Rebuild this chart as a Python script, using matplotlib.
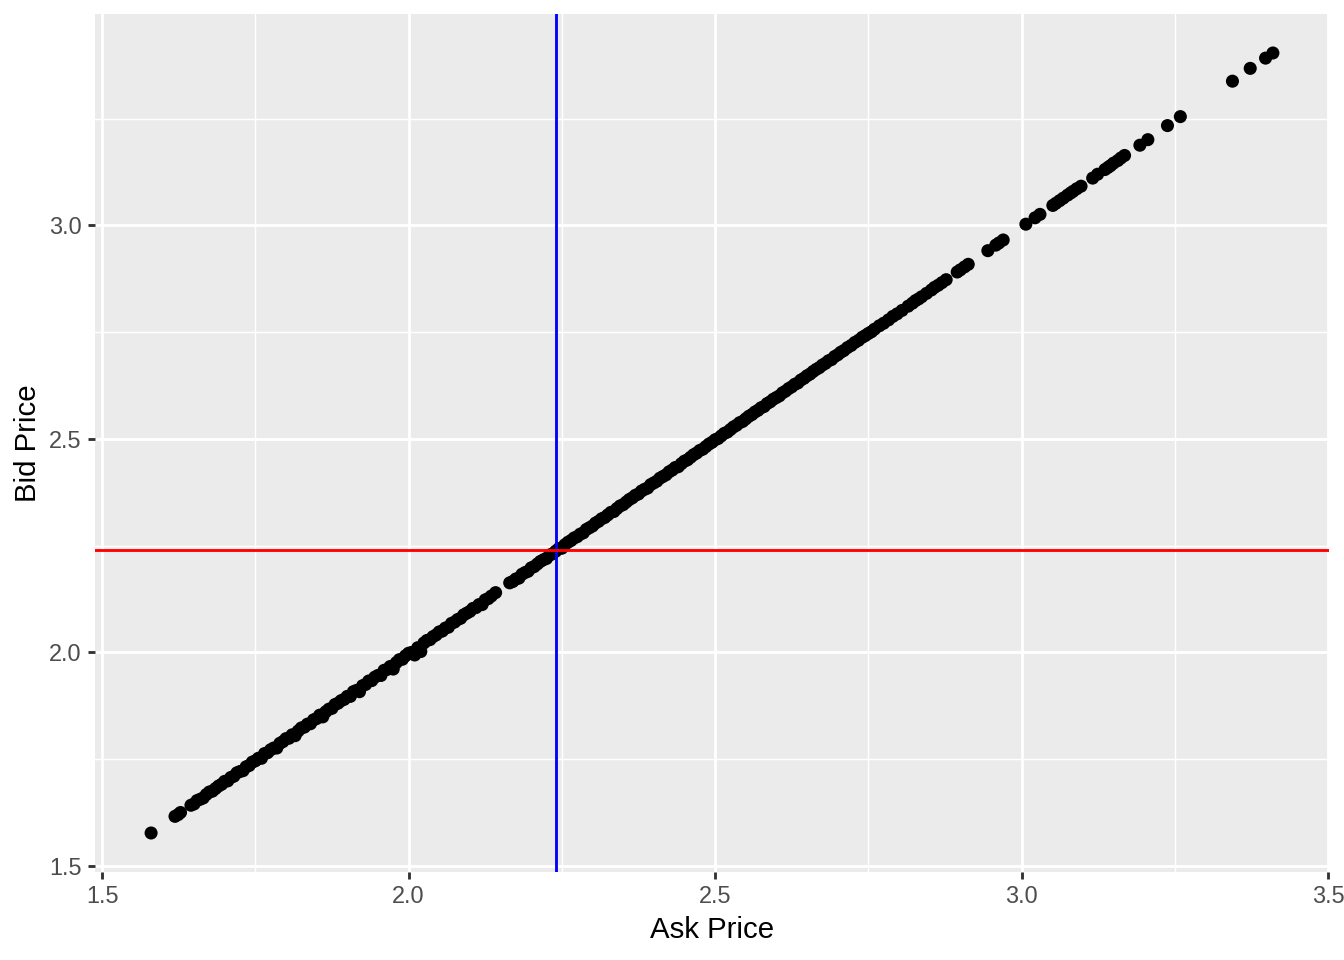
import numpy as np
import matplotlib.pyplot as plt
from matplotlib.ticker import MultipleLocator, FormatStrFormatter

# === Data (Ask vs Bid) ===
ask = [
    1.580, 1.619, 1.624, 1.628,
    1.645, 1.650, 1.655, 1.660, 1.665, 1.670, 1.675, 1.680, 1.685, 1.690,
    1.695, 1.700, 1.705, 1.710, 1.715, 1.720, 1.725, 1.730, 1.735, 1.740,
    1.745, 1.750, 1.755, 1.760, 1.765, 1.770, 1.775, 1.780, 1.785, 1.790,
    1.795, 1.800, 1.805, 1.810, 1.815, 1.820, 1.825, 1.830, 1.835, 1.840,
    1.845, 1.850, 1.855, 1.860, 1.865, 1.870, 1.875, 1.880, 1.885, 1.890,
    1.895, 1.900, 1.905, 1.910, 1.915, 1.920, 1.925, 1.930, 1.935, 1.940,
    1.945, 1.950, 1.955, 1.960, 1.965, 1.970, 1.975, 1.980, 1.985, 1.990,
    1.995, 2.000, 2.005, 2.010, 2.015, 2.020, 2.025, 2.030, 2.035, 2.040,
    2.045, 2.050, 2.055, 2.060, 2.065, 2.070, 2.075, 2.080, 2.085, 2.090,
    2.095, 2.100, 2.105, 2.110, 2.115, 2.120, 2.125, 2.130, 2.135, 2.142,
    2.165, 2.170, 2.175, 2.180, 2.185, 2.190, 2.195, 2.200, 2.205, 2.210,
    2.215, 2.220, 2.225, 2.230, 2.235, 2.240, 2.245, 2.250, 2.255, 2.260,
    2.265, 2.270, 2.275, 2.280, 2.285, 2.290, 2.295, 2.300, 2.305, 2.310,
    2.315, 2.320, 2.325, 2.330, 2.335, 2.340, 2.345, 2.350, 2.355, 2.360,
    2.365, 2.370, 2.375, 2.380, 2.385, 2.390, 2.395, 2.400, 2.405, 2.410,
    2.415, 2.420, 2.425, 2.430, 2.435, 2.440, 2.445, 2.450, 2.455, 2.460,
    2.465, 2.470, 2.475, 2.480, 2.485, 2.490, 2.495, 2.500, 2.505, 2.510,
    2.515, 2.520, 2.525, 2.530, 2.535, 2.540, 2.545, 2.550, 2.555, 2.560,
    2.565, 2.570, 2.575, 2.580, 2.585, 2.590, 2.595, 2.600, 2.605, 2.610,
    2.615, 2.620, 2.625, 2.630, 2.635, 2.640, 2.645, 2.650, 2.655, 2.660,
    2.665, 2.670, 2.675, 2.680, 2.685, 2.690, 2.695, 2.700, 2.705, 2.710,
    2.716, 2.722, 2.728, 2.734, 2.740,
    2.745, 2.750, 2.755, 2.760, 2.768, 2.775, 2.783, 2.790, 2.797, 2.805,
    2.815, 2.822, 2.827, 2.832, 2.837, 2.845, 2.853, 2.858, 2.864, 2.870,
    2.877, 2.895, 2.900, 2.907, 2.913, 2.945, 2.958, 2.963, 2.970,
    3.007, 3.022, 3.030, 3.051, 3.056, 3.062, 3.068, 3.075, 3.080, 3.084,
    3.090, 3.097, 3.116, 3.124, 3.136, 3.141, 3.145, 3.150, 3.157, 3.162,
    3.168, 3.193, 3.206, 3.238, 3.259, 3.344, 3.373, 3.398, 3.410,
]
bid = [
    1.577, 1.616, 1.620, 1.625,
    1.642, 1.645, 1.653, 1.656, 1.659, 1.667, 1.673, 1.675, 1.681, 1.687,
    1.691, 1.698, 1.699, 1.707, 1.710, 1.718, 1.721, 1.723, 1.732, 1.735,
    1.743, 1.746, 1.752, 1.752, 1.763, 1.765, 1.772, 1.776, 1.776, 1.787,
    1.791, 1.798, 1.799, 1.807, 1.805, 1.816, 1.823, 1.825, 1.832, 1.833,
    1.842, 1.845, 1.853, 1.849, 1.861, 1.867, 1.869, 1.878, 1.881, 1.887,
    1.890, 1.897, 1.897, 1.908, 1.911, 1.908, 1.922, 1.925, 1.933, 1.934,
    1.942, 1.946, 1.946, 1.958, 1.960, 1.967, 1.961, 1.976, 1.983, 1.984,
    1.992, 1.998, 2.000, 1.994, 2.011, 2.002, 2.022, 2.028, 2.030, 2.037,
    2.041, 2.048, 2.050, 2.057, 2.059, 2.068, 2.071, 2.077, 2.080, 2.088,
    2.092, 2.096, 2.103, 2.105, 2.112, 2.112, 2.123, 2.126, 2.132, 2.140,
    2.163, 2.166, 2.172, 2.174, 2.183, 2.187, 2.190, 2.198, 2.201, 2.207,
    2.213, 2.217, 2.220, 2.228, 2.231, 2.237, 2.243, 2.244, 2.252, 2.258,
    2.262, 2.268, 2.271, 2.277, 2.280, 2.288, 2.292, 2.296, 2.303, 2.307,
    2.313, 2.316, 2.322, 2.328, 2.330, 2.337, 2.343, 2.346, 2.352, 2.358,
    2.362, 2.368, 2.371, 2.378, 2.382, 2.385, 2.393, 2.397, 2.401, 2.408,
    2.412, 2.416, 2.423, 2.427, 2.433, 2.435, 2.442, 2.448, 2.451, 2.457,
    2.463, 2.467, 2.473, 2.476, 2.482, 2.488, 2.492, 2.498, 2.501, 2.507,
    2.513, 2.516, 2.522, 2.528, 2.532, 2.538, 2.541, 2.547, 2.553, 2.557,
    2.563, 2.567, 2.573, 2.576, 2.583, 2.587, 2.593, 2.597, 2.601, 2.608,
    2.612, 2.618, 2.622, 2.628, 2.631, 2.638, 2.642, 2.648, 2.652, 2.658,
    2.663, 2.667, 2.673, 2.677, 2.683, 2.686, 2.693, 2.697, 2.703, 2.707,
    2.714, 2.719, 2.726, 2.731, 2.738,
    2.742, 2.747, 2.751, 2.757, 2.765, 2.771, 2.779, 2.787, 2.793, 2.801,
    2.811, 2.818, 2.824, 2.828, 2.833, 2.841, 2.849, 2.855, 2.860, 2.866,
    2.873, 2.891, 2.896, 2.903, 2.909, 2.941, 2.954, 2.959, 2.966,
    3.003, 3.018, 3.026, 3.047, 3.052, 3.058, 3.064, 3.071, 3.076, 3.080,
    3.086, 3.092, 3.111, 3.120, 3.131, 3.136, 3.140, 3.146, 3.152, 3.158,
    3.164, 3.188, 3.201, 3.234, 3.255, 3.338, 3.368, 3.392, 3.404,
]

mean_ask = 2.241
mean_bid = 2.241

# === Plot (ggplot2 theme_grey look) ===
plt.rcParams['font.family'] = ['Liberation Sans', 'DejaVu Sans']

fig = plt.figure(figsize=(7, 5), dpi=192)
W, H = 1344, 960
ax = fig.add_axes([95 / W, (H - 872) / H, (1329 - 95) / W, (872 - 14) / H])

ax.set_facecolor('#EBEBEB')
for s in ax.spines.values():
    s.set_visible(False)

ax.scatter(ask, bid, s=24, color='black', edgecolors='none', zorder=3)
ax.axvline(mean_ask, color='blue', lw=1.07, zorder=4)
ax.axhline(mean_bid, color='red', lw=1.07, zorder=5)

# 5% expansion like ggplot
xr = max(ask) - min(ask)
yr = max(bid) - min(bid)
ax.set_xlim(min(ask) - 0.05 * xr, max(ask) + 0.05 * xr)
ax.set_ylim(min(bid) - 0.05 * yr, max(bid) + 0.05 * yr)

for axis in (ax.xaxis, ax.yaxis):
    axis.set_major_locator(MultipleLocator(0.5))
    axis.set_minor_locator(MultipleLocator(0.25))
    axis.set_major_formatter(FormatStrFormatter('%.1f'))

ax.grid(which='major', color='white', lw=1.07, zorder=0)
ax.grid(which='minor', color='white', lw=0.53, zorder=0)
ax.set_axisbelow(True)

ax.tick_params(which='major', length=2.75, width=1.07, color='#333333',
               labelcolor='#4D4D4D', labelsize=8.8, pad=2.2)
ax.tick_params(which='minor', length=0)

ax.set_xlabel('Ask Price', fontsize=11, color='black', labelpad=2.75)
ax.set_ylabel('Bid Price', fontsize=11, color='black', labelpad=2.75)

fig.savefig('out.png', dpi=192)
